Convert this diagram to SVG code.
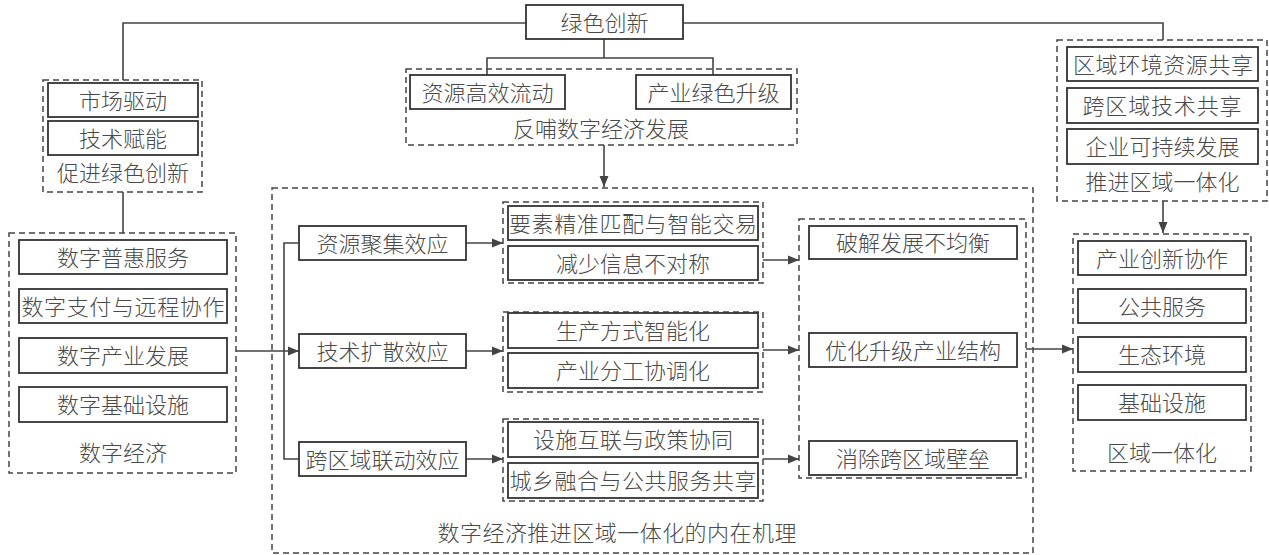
<svg xmlns="http://www.w3.org/2000/svg" width="1269" height="555" viewBox="0 0 1269 555">
<defs>
<style>
.b{fill:#fff;stroke:#333;stroke-width:1.8}
.g{fill:none;stroke:#444;stroke-width:1.5;stroke-dasharray:6 4}
.c{fill:none;stroke:#444;stroke-width:1.6}
text{font-family:"Noto Sans CJK SC","Noto Sans",sans-serif;font-size:22px;font-weight:300;fill:#4a4a4a;text-anchor:middle;dominant-baseline:central;transform:translateY(-1.5px)}
</style>
<marker id="ah" markerUnits="userSpaceOnUse" markerWidth="12" markerHeight="10" refX="11" refY="5" orient="auto">
<path d="M0,0.5 L11,5 L0,9.5 Z" fill="#444"/>
</marker>
</defs>
<rect width="1269" height="555" fill="#fff"/>

<g id="connectors">
<polyline class="c" points="123,80 123,23 526,23"/>
<polyline class="c" points="683,23 1163,23 1163,40"/>
<line class="c" x1="604" y1="39" x2="604" y2="58"/>
<polyline class="c" points="487,75 487,58 713,58 713,75"/>
<line class="c" x1="604" y1="145" x2="604" y2="187" marker-end="url(#ah)"/>
<line class="c" x1="123" y1="192" x2="123" y2="233"/>
<line class="c" x1="236" y1="351" x2="299" y2="351" marker-end="url(#ah)"/>
<polyline class="c" points="299,243 284,243 284,459 299,459"/>
<line class="c" x1="466" y1="243" x2="503" y2="243" marker-end="url(#ah)"/>
<line class="c" x1="466" y1="351" x2="503" y2="351" marker-end="url(#ah)"/>
<line class="c" x1="466" y1="459" x2="503" y2="459" marker-end="url(#ah)"/>
<line class="c" x1="763" y1="260" x2="799" y2="260" marker-end="url(#ah)"/>
<line class="c" x1="763" y1="350" x2="799" y2="350" marker-end="url(#ah)"/>
<line class="c" x1="763" y1="459" x2="799" y2="459" marker-end="url(#ah)"/>
<line class="c" x1="1026" y1="349" x2="1073" y2="349" marker-end="url(#ah)"/>
<line class="c" x1="1163" y1="201" x2="1163" y2="233" marker-end="url(#ah)"/>
</g>

<g id="green-innovation">
<rect class="b" x="526" y="5" width="157" height="34"/>
<text x="604.5" y="22">绿色创新</text>
</g>

<g id="promote-green">
<rect class="g" x="43" y="80" width="159" height="112"/>
<rect class="b" x="48" y="83" width="150" height="34"/>
<text x="123" y="100">市场驱动</text>
<rect class="b" x="48" y="121" width="150" height="34"/>
<text x="123" y="138">技术赋能</text>
<text x="123" y="172">促进绿色创新</text>
</g>

<g id="feedback">
<rect class="g" x="406" y="69" width="391" height="76"/>
<rect class="b" x="410" y="75" width="155" height="34"/>
<text x="487.5" y="92">资源高效流动</text>
<rect class="b" x="636" y="75" width="155" height="34"/>
<text x="713.5" y="92">产业绿色升级</text>
<text x="601" y="128">反哺数字经济发展</text>
</g>

<g id="promote-integration">
<rect class="g" x="1057" y="40" width="210" height="161"/>
<rect class="b" x="1067" y="47" width="191" height="34"/>
<text x="1163" y="64" textLength="180" lengthAdjust="spacing">区域环境资源共享</text>
<rect class="b" x="1067" y="88" width="191" height="35"/>
<text x="1162" y="105.5" textLength="159" lengthAdjust="spacing">跨区域技术共享</text>
<rect class="b" x="1067" y="129" width="191" height="35"/>
<text x="1162.5" y="146.5">企业可持续发展</text>
<text x="1162.5" y="181">推进区域一体化</text>
</g>

<g id="digital-economy">
<rect class="g" x="9" y="233" width="227" height="240"/>
<rect class="b" x="19" y="240" width="208" height="34"/>
<text x="123" y="257">数字普惠服务</text>
<rect class="b" x="19" y="289" width="208" height="34"/>
<text x="123" y="306" textLength="203" lengthAdjust="spacing">数字支付与远程协作</text>
<rect class="b" x="19" y="338" width="208" height="35"/>
<text x="123" y="355.5">数字产业发展</text>
<rect class="b" x="19" y="387" width="208" height="35"/>
<text x="123" y="404.5">数字基础设施</text>
<text x="123" y="452">数字经济</text>
</g>

<g id="mechanism">
<rect class="g" x="272" y="188" width="761" height="365"/>
<text x="617" y="532" textLength="359" lengthAdjust="spacing">数字经济推进区域一体化的内在机理</text>
</g>

<g id="effect-resource">
<rect class="b" x="299" y="226" width="167" height="34"/>
<text x="382.5" y="243">资源聚集效应</text>
</g>
<g id="effect-tech">
<rect class="b" x="299" y="334" width="167" height="34"/>
<text x="382.5" y="351">技术扩散效应</text>
</g>
<g id="effect-cross">
<rect class="b" x="299" y="442" width="167" height="34"/>
<text x="382.5" y="459">跨区域联动效应</text>
</g>

<g id="path-resource">
<rect class="g" x="503" y="202" width="260" height="81"/>
<rect class="b" x="508" y="206" width="250" height="34"/>
<text x="633" y="223" textLength="248" lengthAdjust="spacing">要素精准匹配与智能交易</text>
<rect class="b" x="508" y="246" width="250" height="34"/>
<text x="633" y="263">减少信息不对称</text>
</g>
<g id="path-tech">
<rect class="g" x="503" y="312" width="260" height="80"/>
<rect class="b" x="508" y="313" width="250" height="35"/>
<text x="633" y="330.5">生产方式智能化</text>
<rect class="b" x="508" y="353" width="250" height="35"/>
<text x="633" y="370.5">产业分工协调化</text>
</g>
<g id="path-cross">
<rect class="g" x="503" y="419" width="260" height="82"/>
<rect class="b" x="508" y="422" width="250" height="35"/>
<text x="633" y="439.5" textLength="200" lengthAdjust="spacing">设施互联与政策协同</text>
<rect class="b" x="508" y="463" width="250" height="35"/>
<text x="633" y="480.5" textLength="247" lengthAdjust="spacing">城乡融合与公共服务共享</text>
</g>

<g id="results">
<rect class="g" x="799" y="219" width="227" height="259"/>
<rect class="b" x="809" y="226" width="208" height="33"/>
<text x="913" y="242.5">破解发展不均衡</text>
<rect class="b" x="809" y="333" width="208" height="34"/>
<text x="913" y="350">优化升级产业结构</text>
<rect class="b" x="809" y="441" width="208" height="34"/>
<text x="913" y="458">消除跨区域壁垒</text>
</g>

<g id="regional-integration">
<rect class="g" x="1073" y="234" width="178" height="237"/>
<rect class="b" x="1078" y="241" width="168" height="34"/>
<text x="1162" y="258">产业创新协作</text>
<rect class="b" x="1078" y="289" width="168" height="34"/>
<text x="1162" y="306">公共服务</text>
<rect class="b" x="1078" y="337" width="168" height="35"/>
<text x="1162" y="354.5">生态环境</text>
<rect class="b" x="1078" y="385" width="168" height="35"/>
<text x="1162" y="402.5">基础设施</text>
<text x="1162" y="452">区域一体化</text>
</g>
</svg>
